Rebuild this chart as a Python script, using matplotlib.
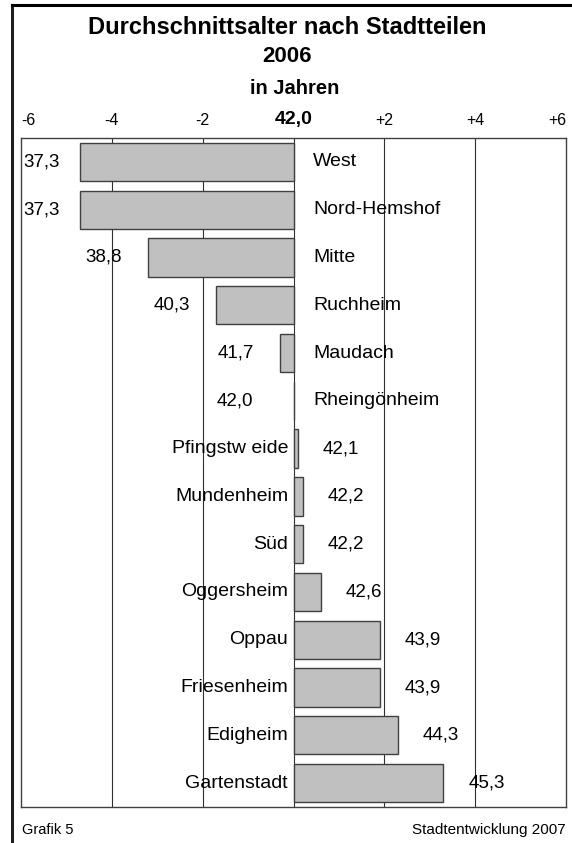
import matplotlib.pyplot as plt
from matplotlib.lines import Line2D

plt.rcParams['font.family'] = ['Liberation Sans', 'DejaVu Sans']

stadtteile = ["West", "Nord-Hemshof", "Mitte", "Ruchheim", "Maudach", "Rheingönheim",
              "Pfingstw eide", "Mundenheim", "Süd", "Oggersheim", "Oppau",
              "Friesenheim", "Edigheim", "Gartenstadt"]
alter = [37.3, 37.3, 38.8, 40.3, 41.7, 42.0, 42.1, 42.2, 42.2, 42.6, 43.9, 43.9, 44.3, 45.3]
mittel = 42.0
tick_werte = [-6, -4, -2, 0, 2, 4, 6]
tick_texte = ["-6", "-4", "-2", "42,0", "+2", "+4", "+6"]

W, H = 572, 843
fig = plt.figure(figsize=(W / 100, H / 100), dpi=100)
ax = fig.add_axes([21 / W, 1 - 807 / H, (566 - 21) / W, (807 - 138) / H])

abw = [a - mittel for a in alter]
y = list(range(len(stadtteile)))
ax.barh(y, abw, height=0.8, color='#c0c0c0', edgecolor='#404040', linewidth=1, zorder=3)

ax.set_xlim(-6, 6)
ax.set_ylim(len(stadtteile) - 0.5, -0.5)
for g in [-4, -2, 0, 2, 4]:
    ax.axvline(g, color='#303030', linewidth=0.8, zorder=1)

ax.set_yticks([])
ax.xaxis.tick_top()
ax.set_xticks(tick_werte)
ax.set_xticklabels(tick_texte)
ax.tick_params(axis='x', length=0, pad=7, labelsize=11.5)
labs = ax.get_xticklabels()
labs[0].set_ha('left')
labs[-1].set_ha('right')
labs[3].set_fontweight('bold')
labs[3].set_fontsize(14)
for sp in ax.spines.values():
    sp.set_color('#404040')
    sp.set_linewidth(1)

for i, (name, a, d) in enumerate(zip(stadtteile, alter, abw)):
    wert = f"{a:.1f}".replace(".", ",")
    if d <= 0:
        xw = max(min(d, -0.3) - 0.58, -5.15)
        ax.text(xw, i, wert, ha='right', va='center', fontsize=13.5, zorder=4)
        ax.text(0.43, i, name, ha='left', va='center', fontsize=14, zorder=4)
    else:
        ax.text(d + 0.55, i, wert, ha='left', va='center', fontsize=13.5, zorder=4)
        ax.text(-0.12, i, name, ha='right', va='center', fontsize=14, zorder=4)

fig.text(0.502, 1 - 27 / H, "Durchschnittsalter nach Stadtteilen", ha='center', va='center',
         fontsize=17, fontweight='bold')
fig.text(0.502, 1 - 57 / H, "2006", ha='center', va='center', fontsize=16, fontweight='bold')
fig.text(0.515, 1 - 89 / H, "in Jahren", ha='center', va='center', fontsize=14.5, fontweight='bold')

fig.text(22 / W, 1 - 830 / H, "Grafik 5", ha='left', va='center', fontsize=10.5)
fig.text(566 / W, 1 - 830 / H, "Stadtentwicklung 2007", ha='right', va='center', fontsize=11)

# Rahmen
fig.add_artist(Line2D([12 / W, 12 / W], [0, 1 - 5 / H], color='#202020', linewidth=2.2))
fig.add_artist(Line2D([12 / W, 1], [1 - 5 / H, 1 - 5 / H], color='black', linewidth=2.2))

fig.savefig("out.png", dpi=100)
